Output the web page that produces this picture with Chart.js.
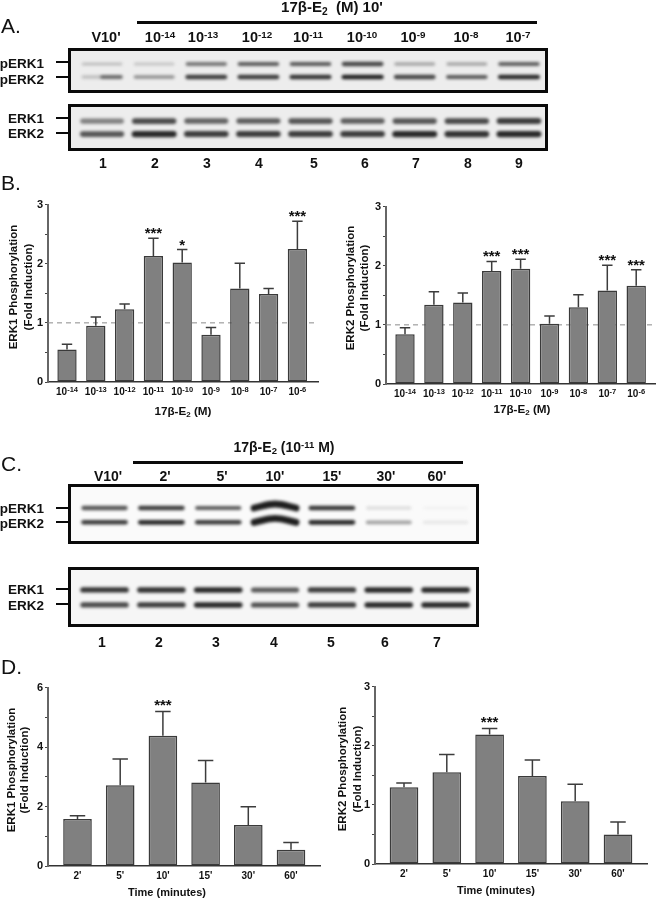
<!DOCTYPE html>
<html><head><meta charset="utf-8">
<script src="https://cdn.jsdelivr.net/npm/chart.js@4/dist/chart.umd.min.js"></script>
<style>
html,body{margin:0;padding:0;background:#fff}
#page{position:relative;width:657px;height:899px;overflow:hidden;filter:blur(0.35px);font-family:"Liberation Sans",Arial,sans-serif;color:#111}
.t{position:absolute;white-space:pre;line-height:1;font-weight:bold}
.t sup{font-size:68%;vertical-align:baseline;position:relative;top:-0.42em}
.t sub{font-size:68%;vertical-align:baseline;position:relative;top:0.25em}
.box{position:absolute;box-sizing:border-box;border:3px solid #0a0a0a;overflow:hidden}
.box canvas{filter:blur(1.5px);display:block}
.rule{position:absolute;background:#0a0a0a}
.c{position:absolute}
</style></head><body><div id="page"></div>
<script>
// ---------- chart data ----------
const concExponents = ['-14','-13','-12','-11','-10','-9','-8','-7','-6'];
const timeLabels = ["2'","5'","10'","15'","30'","60'"];
const b1Values = [0.55,0.95,1.23,2.13,2.02,0.80,1.58,1.49,2.25];
const b1Upper  = [0.64,1.10,1.32,2.43,2.24,0.92,2.01,1.58,2.72];
const b1Stars  = ['','','','***','*','','','','***'];
const b2Values = [0.84,1.34,1.38,1.91,1.95,1.02,1.30,1.58,1.66];
const b2Upper  = [0.95,1.56,1.54,2.07,2.11,1.15,1.51,2.01,1.93];
const b2Stars  = ['','','','***','***','','','***','***'];
const d1Values = [1.58,2.72,4.38,2.81,1.38,0.55];
const d1Upper  = [1.69,3.60,5.20,3.55,1.99,0.79];
const d1Stars  = ['','','***','','',''];
const d2Values = [1.30,1.55,2.19,1.49,1.06,0.50];
const d2Upper  = [1.37,1.85,2.29,1.76,1.35,0.71];
const d2Stars  = ['','','***','','',''];
// blot band intensities per lane
const aPerk1 = [0.32,0.28,0.58,0.68,0.70,0.80,0.42,0.42,0.66];
const aPerk2 = [0.62,0.50,0.85,0.85,0.90,1.00,0.80,0.70,0.95];
const aErk1  = [0.55,0.78,0.65,0.68,0.72,0.68,0.72,0.78,0.85];
const aErk2  = [0.72,0.95,0.85,0.85,0.85,0.85,0.95,0.90,0.95];
const cPerk1 = [0.72,0.85,0.68,1.00,0.88,0.18,0.00];
const cPerk2 = [0.85,0.95,0.85,1.00,0.95,0.45,0.12];
const cErk1  = [0.88,0.90,0.95,0.70,0.85,0.95,0.95];
const cErk2  = [0.78,0.85,0.95,0.75,0.85,0.95,0.95];
const cHump  = [0,0,0,0.28,0,0,0];
const aLaneLabels = ["V10'",'10<sup>-14</sup>','10<sup>-13</sup>','10<sup>-12</sup>','10<sup>-11</sup>','10<sup>-10</sup>','10<sup>-9</sup>','10<sup>-8</sup>','10<sup>-7</sup>'];
const cLaneLabels = ["V10'","2'","5'","10'","15'","30'","60'"];
const aNumbers = ['1','2','3','4','5','6','7','8','9'];
const cNumbers = ['1','2','3','4','5','6','7'];

// ---------- helpers ----------
const FONT='"Liberation Sans",Arial,sans-serif';
Chart.defaults.font.family=FONT;
Chart.defaults.font.weight='bold';
Chart.defaults.color='#111';
Chart.defaults.animation=false;
const page=document.getElementById('page');
function text(html,x,y,size,o={}){
  const e=document.createElement('div');e.className='t';e.innerHTML=html;
  e.style.left=x+'px';e.style.top=y+'px';e.style.fontSize=size+'px';
  if(o.normal)e.style.fontWeight='normal';
  const tx=o.anchor==='left'?'0':o.anchor==='right'?'-100%':'-50%';
  e.style.transform=`translate(${tx},-50%)`+(o.rot?' rotate(-90deg)':'');
  page.appendChild(e);return e;
}
function rule(x,y,w,h){const e=document.createElement('div');e.className='rule';
  e.style.cssText+=`left:${x}px;top:${y}px;width:${w}px;height:${h}px`;page.appendChild(e);}

const errPlugin={id:'errorBars',
  beforeDatasetsDraw(chart){
    const {ctx,chartArea:a,scales:{y}}=chart,o=chart.config.options.plugins.errorBars;
    if(o.refLine!=null){ctx.save();ctx.strokeStyle='#8a8a8a';ctx.lineWidth=1;ctx.setLineDash([5,4]);
      const p=y.getPixelForValue(o.refLine);ctx.beginPath();ctx.moveTo(a.left,p);ctx.lineTo(a.right,p);ctx.stroke();ctx.restore();}
    const m=chart.getDatasetMeta(0);ctx.save();ctx.strokeStyle='#3c3c3c';ctx.lineWidth=1.5;
    m.data.forEach((b,i)=>{const t=y.getPixelForValue(o.upper[i]),c=b.width*0.27;
      ctx.beginPath();ctx.moveTo(b.x,b.y);ctx.lineTo(b.x,t);ctx.moveTo(b.x-c,t);ctx.lineTo(b.x+c,t);ctx.stroke();});
    ctx.restore();
  },
  afterDatasetsDraw(chart){
    const {ctx,scales:{x,y}}=chart,o=chart.config.options.plugins.errorBars,m=chart.getDatasetMeta(0);
    ctx.save();ctx.font='bold 15px '+FONT;ctx.fillStyle='#111';ctx.textAlign='center';ctx.textBaseline='middle';
    m.data.forEach((b,i)=>{if(o.stars[i])ctx.fillText(o.stars[i],b.x,y.getPixelForValue(o.upper[i])-o.starGap);});
    ctx.restore();
    if(o.exponents){ // tick labels with a raised exponent: 10^n
      const by=chart.chartArea.bottom+o.expY;
      ctx.save();ctx.fillStyle='#111';ctx.textBaseline='alphabetic';
      o.exponents.forEach((ex,i)=>{
        const cx=x.getPixelForValue(i+1);
        ctx.font='bold 10px '+FONT;const w1=ctx.measureText('10').width;
        ctx.font='bold 7.5px '+FONT;const w2=ctx.measureText(ex).width;
        const s=cx-(w1+w2)/2;
        ctx.textAlign='left';
        ctx.font='bold 10px '+FONT;ctx.fillText('10',s,by);
        ctx.font='bold 7.5px '+FONT;ctx.fillText(ex,s+w1,by-3.5);
      });
      ctx.restore();
    }
  }};

function barChart(g){
  const pad=30,top=6,bottom=22,h=g.y0-g.yMax+top+bottom,w=g.xEnd-g.axisX+pad+2;
  const c=document.createElement('canvas');c.className='c';c.width=w;c.height=h;
  c.style.left=(g.axisX-pad)+'px';c.style.top=(g.yMax-top)+'px';c.style.width=w+'px';c.style.height=h+'px';
  page.appendChild(c);
  const xMin=1-(g.first-g.axisX)/g.step, xMax=xMin+(g.xEnd-g.axisX)/g.step;
  new Chart(c,{type:'bar',plugins:[errPlugin],
    data:{datasets:[{data:g.values.map((v,i)=>({x:i+1,y:v})),backgroundColor:'#808080',borderColor:'#3a3a3a',borderWidth:1.5,borderSkipped:false,barPercentage:0.67,categoryPercentage:1}]},
    options:{responsive:false,devicePixelRatio:1,animation:false,
      layout:{padding:{top:top,right:2,left:0,bottom:0}},
      plugins:{legend:{display:false},tooltip:{enabled:false},errorBars:{upper:g.upper,stars:g.stars,refLine:g.refLine,starGap:g.starGap,exponents:g.exponents,expY:13}},
      scales:{
        x:{type:'linear',offset:false,min:xMin,max:xMax,
          afterBuildTicks:s=>{s.ticks=g.values.map((_,i)=>({value:i+1}));},
          afterFit:s=>{s.height=bottom;},
          grid:{display:false,drawTicks:false},
          border:{display:true,color:'#333',width:1.5},
          ticks:{display:!g.exponents,autoSkip:false,maxRotation:0,padding:4,font:{size:10,weight:'bold'},callback:(v)=>g.labels?g.labels[v-1]:''}},
        y:{type:'linear',min:0,max:g.max,
          afterFit:s=>{s.width=pad;},
          grid:{display:true,drawOnChartArea:false,drawTicks:true,tickLength:3,color:'#444',lineWidth:1},
          border:{display:true,color:'#666',width:2},
          ticks:{stepSize:g.minor,padding:2,font:{size:11,weight:'bold'},callback:v=>(v%g.major===0?String(v):'')}}
      }}});
  text(g.title,g.titleX,g.titleY,g.titleSize);
  text(g.yTitle[0],g.yx[0],g.yc,11.5,{rot:true});
  text(g.yTitle[1],g.yx[1],g.yc,11.5,{rot:true});
}

function blot(g){
  const box=document.createElement('div');box.className='box';
  box.style.cssText+=`left:${g.x}px;top:${g.y}px;width:${g.w}px;height:${g.h}px;background:${g.bg}`;
  page.appendChild(box);
  const w=g.w-6,h=g.h-6,c=document.createElement('canvas');c.width=w;c.height=h;
  c.style.width=w+'px';c.style.height=h+'px';box.appendChild(c);
  const sets=[];
  g.bands.forEach((band,bi)=>{const level=2-bi;
    band.forEach((v,i)=>{
      const lane=i+1,bow=g.hump?g.hump[i]:0,shade=Math.round(30+195*(1-v)),col=`rgba(${shade},${shade},${shade},${0.25+0.75*Math.min(1,v*1.6)})`;
      const halfW=g.halfWidth;
      const left=(g.fade&&g.fade[bi]&&g.fade[bi][i])?`rgba(${shade},${shade},${shade},${g.fade[bi][i]})`:col;
      sets.push({data:[{x:lane-halfW,y:level},{x:lane,y:level+bow},{x:lane+halfW,y:level}],
        borderColor:col,borderWidth:g.thin+g.gain*v+(bow?2:0),showLine:true,pointRadius:0,tension:0.35,borderCapStyle:'round',
        segment:{borderColor:ctx=>ctx.p0DataIndex===0?left:col}});
    });
  });
  new Chart(c,{type:'scatter',data:{datasets:sets},options:{responsive:false,devicePixelRatio:1,animation:false,
    layout:{padding:0},plugins:{legend:{display:false},tooltip:{enabled:false}},
    scales:{x:{type:'linear',display:false,min:g.xMin,max:g.xMax},y:{type:'linear',display:false,min:g.yMin,max:g.yMax}}}});
}

// ---------- panel A ----------
text('A.',1,25,21,{anchor:'left',normal:true});
text("17β-E<sub>2</sub>  (M) 10'",332,7,15);
rule(137,21,400,2.5);
[106,160,203,257,308,362,413,466,518].forEach((x,i)=>text(aLaneLabels[i],x,37,14.5));
blot({x:68,y:48,w:480,h:45,bg:'#ededed',bands:[aPerk1,aPerk2],xMin:0.404,xMax:9.5,yMin:0,yMax:3,halfWidth:0.36,thin:2.5,gain:2.2,fade:[null,[0.3,0,0,0,0,0,0,0,0]]});
blot({x:68,y:104,w:480,h:47,bg:'#ededed',bands:[aErk1,aErk2],xMin:0.404,xMax:9.5,yMin:-0.07,yMax:3.08,halfWidth:0.37,thin:3.5,gain:3});
[['pERK1',64,62],['pERK2',80,77],['ERK1',119,118],['ERK2',134,133]].forEach(([s,y,ty])=>{text(s,44,y,13.5,{anchor:'right'});rule(56,ty-1,12,2);});
[103,155,207,259,314,365,416,468,519].forEach((x,i)=>text(aNumbers[i],x,163,14));

// ---------- panel B ----------
text('B.',1,182,21,{anchor:'left',normal:true});
barChart({axisX:48,xEnd:318,yMax:202,y0:382,max:3,major:1,minor:0.5,first:67,step:28.8,values:b1Values,upper:b1Upper,stars:b1Stars,exponents:concExponents,refLine:1,starGap:4,
  title:'17β-E<sub>2</sub> (M)',titleSize:11.7,titleX:183,titleY:411,yTitle:['ERK1 Phosphorylation','(Fold Induction)'],yx:[14,29],yc:287});
barChart({axisX:386,xEnd:655,yMax:204,y0:384,max:3,major:1,minor:0.5,first:405,step:28.9,values:b2Values,upper:b2Upper,stars:b2Stars,exponents:concExponents,refLine:1,starGap:4.5,
  title:'17β-E<sub>2</sub> (M)',titleSize:11.7,titleX:522,titleY:409,yTitle:['ERK2 Phosphorylation','(Fold Induction)'],yx:[351,365],yc:288});

// ---------- panel C ----------
text('C.',1,463,21,{anchor:'left',normal:true});
text('17β-E<sub>2</sub> (10<sup>-11</sup> M)',284,447,14);
rule(133,461,330,2.5);
[108,165,222,275,332,386,437].forEach((x,i)=>text(cLaneLabels[i],x,476,14));
blot({x:68,y:484,w:411,h:60,bg:'#fafafa',bands:[cPerk1,cPerk2],xMin:0.41,xMax:7.535,yMin:-0.31,yMax:3.47,halfWidth:0.37,thin:3,gain:1.8,hump:cHump});
blot({x:68,y:567,w:411,h:60,bg:'#f6f6f6',bands:[cErk1,cErk2],xMin:0.41,xMax:7.535,yMin:-0.27,yMax:3.33,halfWidth:0.38,thin:4,gain:1.5});
[['pERK1',509,508],['pERK2',524,522],['ERK1',590,589],['ERK2',606,604]].forEach(([s,y,ty])=>{text(s,44,y,13.5,{anchor:'right'});rule(56,ty-1,12,2);});
[102,159,216,274,331,385,437].forEach((x,i)=>text(cNumbers[i],x,642,14));

// ---------- panel D ----------
text('D.',1,666,21,{anchor:'left',normal:true});
barChart({axisX:48,xEnd:320,yMax:685,y0:866,max:6,major:2,minor:1,first:77.5,step:42.7,values:d1Values,upper:d1Upper,stars:d1Stars,labels:timeLabels,refLine:null,starGap:6,
  title:'Time (minutes)',titleSize:11,titleX:167,titleY:892,yTitle:['ERK1 Phosphorylation','(Fold Induction)'],yx:[12,25],yc:770});
barChart({axisX:375,xEnd:647,yMax:684,y0:864,max:3,major:1,minor:0.5,first:404,step:42.8,values:d2Values,upper:d2Upper,stars:d2Stars,labels:timeLabels,refLine:null,starGap:5.5,
  title:'Time (minutes)',titleSize:11,titleX:496,titleY:890,yTitle:['ERK2 Phosphorylation','(Fold Induction)'],yx:[343,358],yc:769});
</script></body></html>
